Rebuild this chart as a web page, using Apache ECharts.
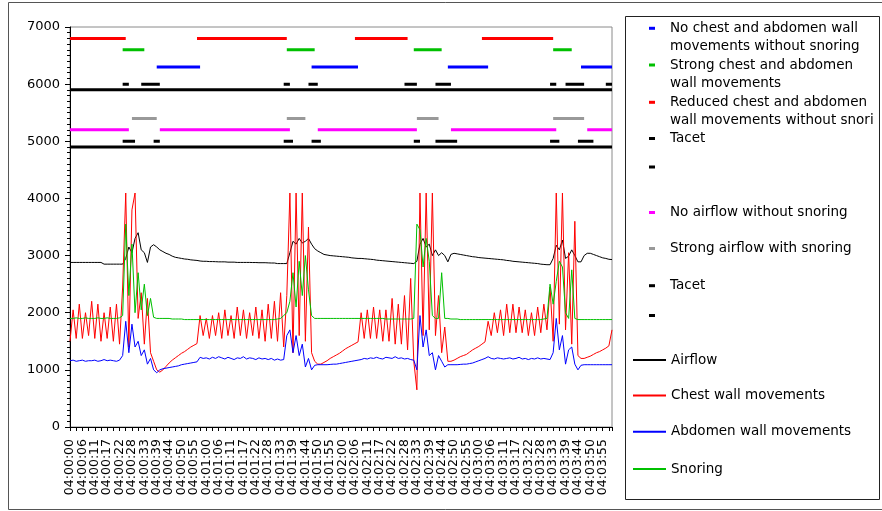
<!DOCTYPE html>
<html><head><meta charset="utf-8">
<script src="https://cdn.jsdelivr.net/npm/echarts@6/dist/echarts.min.js"></script>
<style>html,body{margin:0;padding:0;background:#fff}#c{width:882px;height:511px}</style>
</head><body><div id="c"></div>
<script>
// ---- tick labels (one every 4 samples) ----
const tickLabels = ['04:00:00','04:00:06','04:00:11','04:00:17','04:00:22','04:00:28','04:00:33','04:00:39','04:00:44','04:00:50','04:00:55',
'04:01:00','04:01:06','04:01:11','04:01:17','04:01:22','04:01:28','04:01:33','04:01:39','04:01:44','04:01:50','04:01:55',
'04:02:00','04:02:06','04:02:11','04:02:17','04:02:22','04:02:28','04:02:33','04:02:39','04:02:44','04:02:50','04:02:55',
'04:03:00','04:03:06','04:03:11','04:03:17','04:03:22','04:03:28','04:03:33','04:03:39','04:03:44','04:03:50','04:03:55'];
const samplesPerLabel = 4;

// ---- signal series (176 samples) ----
const airflow = [
2880,2880,2880,2880,2880,2880,2880,2880,2880,2880,
2880,2850,2850,2850,2850,2850,2850,2850,2950,3150,
3050,3300,3400,3100,3050,2880,3150,3190,3150,3100,
3070,3040,3020,2990,2970,2960,2950,2940,2935,2925,
2920,2915,2905,2900,2900,2895,2895,2893,2890,2890,
2890,2885,2885,2885,2880,2880,2880,2880,2880,2878,
2878,2875,2875,2875,2872,2870,2870,2860,2860,2860,
2860,3050,3250,3200,3300,3220,3250,3300,3200,3120,
3080,3050,3020,3010,3000,2995,2990,2985,2980,2975,
2970,2960,2955,2950,2950,2945,2940,2935,2930,2920,
2915,2910,2905,2900,2895,2890,2885,2880,2875,2870,
2865,2860,2900,3200,3300,3150,3200,3000,3100,3000,
3050,3000,2890,3020,3040,3030,3020,3010,3000,2990,
2980,2975,2965,2960,2955,2950,2945,2940,2935,2930,
2925,2915,2910,2900,2895,2890,2885,2880,2875,2870,
2865,2860,2850,2845,2840,2840,2950,3180,3100,3270,
2950,2990,3100,3000,2890,2890,3000,3040,3040,3020,
3000,2980,2960,2950,2935,2930];
const chest = [
1500,2050,1550,2150,1550,2000,1600,2200,1550,2150,
1500,2000,1550,2100,1500,2150,1450,2450,4095,1400,
3800,4095,1900,2350,1450,2250,1300,1150,1000,960,
1000,1060,1120,1170,1210,1250,1290,1320,1360,1400,
1430,1460,1950,1600,1900,1550,1950,1600,2000,1550,
2050,1600,1950,1550,2100,1600,2050,1550,2000,1600,
2100,1550,2050,1500,2150,1550,2200,1500,2350,1400,
2300,4095,1300,4095,1600,4095,1500,3500,1300,1150,
1100,1100,1130,1160,1200,1230,1260,1290,1330,1370,
1400,1430,1460,1490,2000,1550,2050,1550,2100,1550,
2050,1500,2050,1500,2250,1450,2150,1450,2300,1350,
2600,1150,650,4095,1600,4095,1700,4095,1600,2300,
1300,1750,1150,1150,1170,1200,1230,1250,1270,1310,
1350,1380,1410,1450,1490,1850,1600,2000,1650,2050,
1600,2150,1650,2150,1650,2100,1650,2050,1600,2000,
1600,2100,1650,2150,1700,2450,1500,4095,1800,4095,
1700,3050,1450,3600,1250,1200,1200,1220,1240,1270,
1300,1320,1350,1380,1420,1700];
const abdomen = [
1160,1170,1150,1160,1170,1150,1160,1160,1170,1150,
1160,1180,1160,1170,1160,1150,1170,1250,1850,1300,
1800,1400,1500,1250,1350,1100,1200,1000,950,1000,
1020,1030,1040,1050,1060,1070,1090,1100,1110,1120,
1130,1140,1220,1200,1210,1190,1220,1200,1230,1210,
1190,1220,1200,1180,1210,1200,1230,1190,1210,1200,
1180,1210,1190,1200,1180,1200,1170,1190,1170,1180,
1600,1700,1300,1600,1250,1450,1050,1200,1000,1080,
1090,1090,1090,1090,1095,1100,1100,1110,1120,1130,
1140,1150,1160,1170,1180,1200,1190,1210,1200,1220,
1200,1190,1220,1210,1200,1230,1200,1210,1190,1200,
1180,1170,1000,1950,1400,1700,1250,1300,1000,1250,
1150,1050,1090,1090,1090,1090,1095,1100,1100,1110,
1120,1140,1160,1180,1200,1230,1200,1190,1210,1200,
1190,1200,1210,1190,1200,1220,1190,1200,1180,1200,
1190,1210,1190,1200,1190,1180,1300,1900,1350,1600,
1100,1350,1400,1100,1000,1080,1090,1090,1090,1090,
1090,1090,1090,1090,1090,1090];
const snoring = [
1900,1900,1910,1900,1900,1910,1900,1900,1900,1910,
1900,1900,1910,1900,1900,1900,1910,1950,3550,2300,
3200,2000,2700,2050,2500,1950,2250,1920,1900,1900,
1900,1900,1900,1890,1890,1890,1890,1880,1880,1880,
1880,1880,1880,1880,1880,1880,1880,1880,1880,1880,
1880,1880,1880,1880,1880,1880,1880,1880,1880,1880,
1880,1880,1880,1880,1880,1880,1880,1890,1900,1950,
2000,2200,2700,2100,2900,2300,3000,2400,1950,1900,
1900,1900,1900,1900,1900,1900,1900,1900,1900,1900,
1900,1900,1900,1900,1900,1900,1900,1900,1900,1900,
1900,1900,1890,1890,1890,1890,1890,1890,1890,1890,
1890,1900,3550,3450,2800,3300,2900,1950,1900,1900,
2700,1900,1900,1890,1890,1890,1880,1880,1880,1880,
1880,1880,1880,1880,1880,1880,1880,1880,1880,1880,
1880,1880,1880,1880,1880,1880,1880,1880,1880,1880,
1880,1880,1880,1890,1900,2500,2150,2550,2900,2800,
2000,1900,2750,1900,1880,1880,1880,1880,1880,1880,
1880,1880,1880,1880,1880,1880];

// ---- event bands: [first sample, last sample] and their levels ----
const levelNoChest = 6300, segNoChest = [[28,42],[78,93],[122,135],[165,175]];
const levelStrongChest = 6600, segStrongChest = [[17,24],[70,79],[111,120],[156,162]];
const levelReducedChest = 6800, segReducedChest = [[0,18],[41,70],[92,109],[133,156]];
const levelTacet1 = 6000, segTacet1 = [[17,19],[23,29],[69,71],[77,80],[108,112],[118,123],[155,157],[160,166],[173,175]];
const levelSep1 = 5900, segSep1 = [[0,175]];
const levelNoAir = 5200, segNoAir = [[0,19],[29,71],[80,112],[123,157],[167,175]];
const levelStrongAir = 5400, segStrongAir = [[20,28],[70,76],[112,119],[156,166]];
const levelTacet2 = 5000, segTacet2 = [[17,21],[27,29],[69,72],[78,81],[111,113],[118,125],[155,158],[164,169]];
const levelSep2 = 4900, segSep2 = [[0,175]];

// ---- build categories ----
const categories = [];
tickLabels.forEach(l => { categories.push(l); for (let j = 1; j < samplesPerLabel; j++) categories.push(l + ' #' + j); });
const N = categories.length;
function fromSegments(segs, level) {
  const a = new Array(N).fill(null);
  segs.forEach(([s, e]) => { for (let i = s; i <= e && i < N; i++) a[i] = level; });
  return a;
}

const FONT = 'DejaVu Sans';
const bandDefs = [
  {name:'No chest and abdomen wall movements without snoring', data: fromSegments(segNoChest, levelNoChest), color:'#0000ff'},
  {name:'Strong chest and abdomen wall movements', data: fromSegments(segStrongChest, levelStrongChest), color:'#00c000'},
  {name:'Reduced chest and abdomen wall movements without snoring', data: fromSegments(segReducedChest, levelReducedChest), color:'#ff0000'},
  {name:'Tacet', data: fromSegments(segTacet1, levelTacet1), color:'#000000'},
  {name:' ', data: fromSegments(segSep1, levelSep1), color:'#000000'},
  {name:'No airflow without snoring', data: fromSegments(segNoAir, levelNoAir), color:'#ff00ff'},
  {name:'Strong airflow with snoring', data: fromSegments(segStrongAir, levelStrongAir), color:'#999999'},
  {name:'Tacet', data: fromSegments(segTacet2, levelTacet2), color:'#000000'},
  {name:'  ', data: fromSegments(segSep2, levelSep2), color:'#000000'}
];
const signalDefs = [
  {name:'Airflow', data: airflow, color:'#000000'},
  {name:'Chest wall movements', data: chest, color:'#ff0000'},
  {name:'Abdomen wall movements', data: abdomen, color:'#0000ff'},
  {name:'Snoring', data: snoring, color:'#00c000'}
];

const series = [];
bandDefs.forEach(d => series.push({
  type:'line', name:d.name, data:d.data, symbol:'none', connectNulls:false,
  color:d.color, lineStyle:{color:d.color, width:3}, animation:false, silent:true
}));
signalDefs.forEach(d => series.push({
  type:'line', name:d.name, data:d.data, symbol:'none',
  color:d.color, lineStyle:{color:d.color, width:1}, animation:false, silent:true
}));

// legend entries: [series name, shown text, y of first line, kind]
const legendEntries = [
  ['No chest and abdomen wall movements without snoring','No chest and abdomen wall\nmovements without snoring',28.3,'mark'],
  ['Strong chest and abdomen wall movements','Strong chest and abdomen\nwall movements',65,'mark'],
  ['Reduced chest and abdomen wall movements without snoring','Reduced chest and abdomen\nwall movements without snoring',102.3,'mark'],
  ['Tacet','Tacet',138.5,'mark'],
  [' ','',174.5,'mark'],
  ['No airflow without snoring','No airflow without snoring',212.5,'mark'],
  ['Strong airflow with snoring','Strong airflow with snoring',248.5,'mark'],
  ['Tacet','Tacet',285.7,'mark'],
  ['  ','',323,'mark'],
  ['Airflow','Airflow',360,'line'],
  ['Chest wall movements','Chest wall movements',395.5,'line'],
  ['Abdomen wall movements','Abdomen wall movements',431.7,'line'],
  ['Snoring','Snoring',469,'line']
];
const LH = 18;
const legends = legendEntries.map(([name, text, y, kind]) => {
  const two = text.indexOf('\n') >= 0;
  // for two-line entries a blank leading line keeps the marker on the first text line
  const shown = two ? ' \n' + text : text;
  const ts = {color:'#000', fontFamily:FONT, fontSize:13.5, lineHeight:LH,
    padding: kind === 'mark' ? [0, 0, 0, 10] : [0,0,0,0]};
  if (two) { ts.width = 211; ts.overflow = 'truncate'; ts.ellipsis = ''; }
  return {
    show:true, orient:'vertical', selectedMode:false, padding:0,
    left: kind === 'mark' ? 649 : 633,
    top: y - (two ? LH * 1.5 : LH / 2),
    icon:'rect',
    itemWidth: kind === 'mark' ? 6 : 33,
    itemHeight: kind === 'mark' ? 3 : 2,
    data:[{name:name}],
    formatter: () => shown,
    textStyle: ts
  };
});

// two overlaid category axes share the labels (alternating), so no label is dropped as "overlapping"
const labelStyle = {show:true, showMinLabel:true, showMaxLabel:true, hideOverlap:false,
  rotate:90, margin:12, color:'#000', fontFamily:FONT, fontSize:12.5, formatter: v => v};
const step2 = samplesPerLabel * 2;

const chart = echarts.init(document.getElementById('c'), null, {renderer:'canvas'});
chart.setOption({
  animation:false,
  backgroundColor:'#ffffff',
  textStyle:{fontFamily:FONT},
  grid:{left:70, top:27, width:542, height:400, show:true, borderColor:'#8a8a8a', borderWidth:1, backgroundColor:'transparent', containLabel:false, outerBoundsMode:'none'},
  legend: legends,
  graphic:[
    {type:'rect', silent:true, z:-10, shape:{x:8.5, y:2.5, width:880, height:507}, style:{fill:null, stroke:'#555555', lineWidth:1}},
    {type:'rect', silent:true, z:-10, shape:{x:625.5, y:16.5, width:254, height:483}, style:{fill:null, stroke:'#222222', lineWidth:1}}
  ],
  xAxis:[{
    type:'category', data:categories, boundaryGap:false, position:'bottom',
    axisLine:{show:true, onZero:false, lineStyle:{color:'#000', width:1}},
    axisTick:{show:true, interval:1, length:4, lineStyle:{color:'#000'}},
    axisLabel:Object.assign({}, labelStyle, {interval:(idx) => idx % step2 === 0}),
    splitLine:{show:false}
  },{
    type:'category', data:categories, boundaryGap:false, position:'bottom', offset:0,
    axisLine:{show:false, onZero:false},
    axisTick:{show:false},
    axisLabel:Object.assign({}, labelStyle, {interval:(idx) => idx % step2 === samplesPerLabel}),
    splitLine:{show:false}
  }],
  yAxis:{
    type:'value', min:0, max:7000, interval:1000,
    axisLine:{show:true, lineStyle:{color:'#000', width:1}},
    axisTick:{show:true, length:5, lineStyle:{color:'#000'}},
    minorTick:{show:true, splitNumber:10, length:3, lineStyle:{color:'#000'}},
    axisLabel:{color:'#000', fontFamily:FONT, fontSize:13, margin:10, formatter: v => String(v)},
    splitLine:{show:false}, minorSplitLine:{show:false}
  },
  tooltip:{show:false},
  series: series
});
</script>
</body></html>
